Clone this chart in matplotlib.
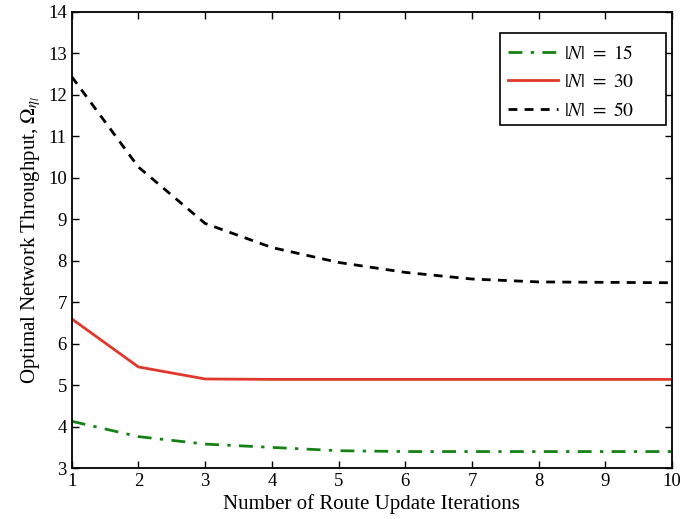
import matplotlib
matplotlib.use("Agg")
import matplotlib.pyplot as plt
from matplotlib.patches import Rectangle

plt.rcParams['font.family'] = ['Liberation Serif', 'DejaVu Serif']
plt.rcParams['mathtext.fontset'] = 'stix'

iterations = [1, 2, 3, 4, 5, 6, 7, 8, 9, 10]
n15 = [4.13, 3.76, 3.58, 3.50, 3.42, 3.40, 3.40, 3.40, 3.40, 3.40]
n30 = [6.60, 5.44, 5.15, 5.14, 5.14, 5.14, 5.14, 5.14, 5.14, 5.14]
n50 = [12.44, 10.26, 8.90, 8.32, 7.96, 7.72, 7.56, 7.49, 7.48, 7.47]
sizes = [15, 30, 50]

fig = plt.figure(figsize=(6.83, 5.19), dpi=100)
ax = fig.add_axes([0.105, 0.098, 0.879, 0.879])

lab = [r'$|N|\ =\ %d$' % n for n in sizes]
ax.plot(iterations, n15, color='#168216', lw=2, dashes=(5, 3, 1.2, 3), label=lab[0])
ax.plot(iterations, n30, color='#e0382b', lw=2, label=lab[1])
ax.plot(iterations, n50, color='black', lw=2, dashes=(3.2, 2.6), label=lab[2])

ax.set_xlim(1, 10)
ax.set_ylim(3, 14)
ax.set_xticks(range(1, 11))
ax.set_yticks(range(3, 15))
ax.tick_params(direction='in', top=True, right=True, labelsize=13.5, length=5, width=1)
for s in ax.spines.values():
    s.set_linewidth(1.3)

ax.set_xlabel('Number of Route Update Iterations', fontsize=15, labelpad=3)
ax.set_ylabel(r'Optimal Network Throughput, $\Omega_{\eta_l}$', fontsize=15, labelpad=4)

leg = ax.legend(loc='upper right', bbox_to_anchor=(0.95, 0.945), borderaxespad=0,
                fontsize=14, frameon=False,
                handlelength=2.6, handletextpad=0.3, labelspacing=0.55)

# legend box drawn by hand so it can keep a wide right margin
fig.canvas.draw()
bb = leg.get_window_extent()
x0, y0 = bb.x0, bb.y0 + 3
x1, y1 = bb.x1 + 24, bb.y1 + 4
inv = ax.transAxes.inverted()
(ax0, ay0), (ax1, ay1) = inv.transform([(x0, y0), (x1, y1)])
box = Rectangle((ax0, ay0), ax1 - ax0, ay1 - ay0, transform=ax.transAxes,
                facecolor='white', edgecolor='black', lw=1.2, zorder=4.5, clip_on=False)
ax.add_patch(box)

fig.savefig('out.png', dpi=100)
